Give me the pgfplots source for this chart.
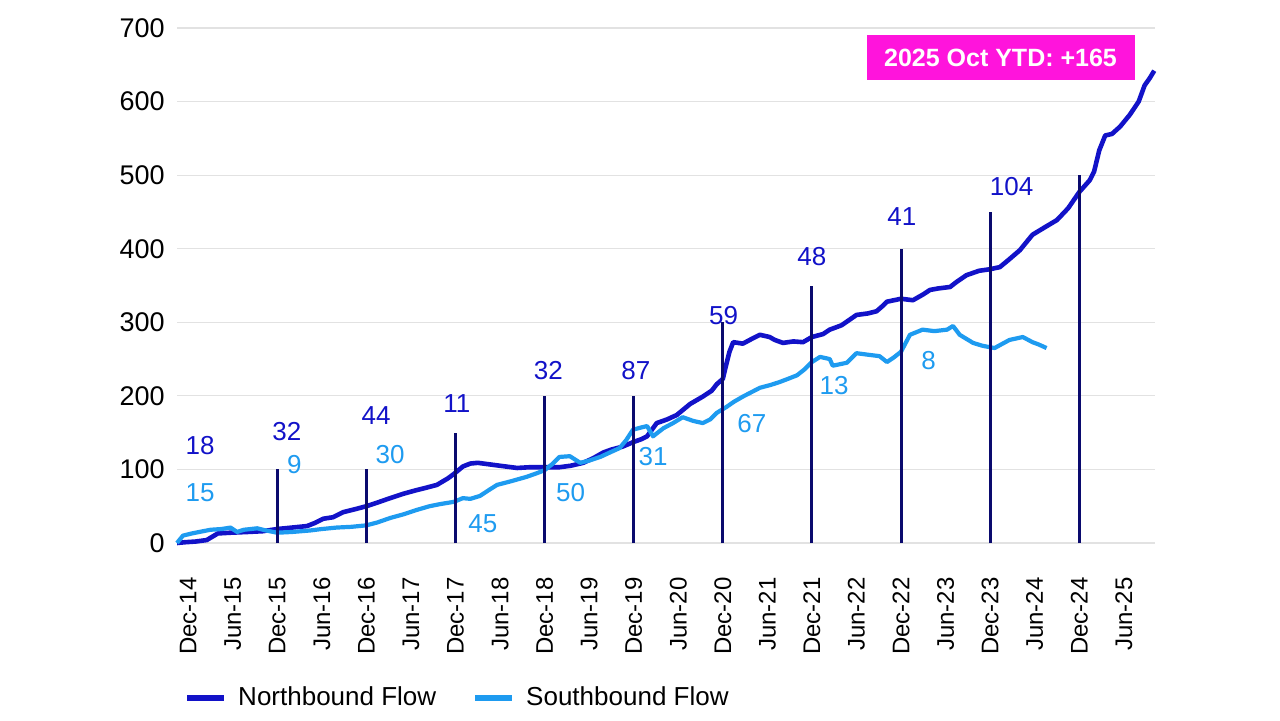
\documentclass[border=0pt]{standalone}
\usepackage{pgfplots}
\pgfplotsset{compat=1.18}
\usepackage{fontspec}
\setmainfont{Liberation Sans}

\definecolor{north}{RGB}{18,18,200}
\definecolor{south}{RGB}{30,155,240}
\definecolor{navy}{RGB}{10,10,110}
\definecolor{ytdpink}{RGB}{255,20,220}
\definecolor{gridgrey}{RGB}{226,226,226}

% months since Dec-14 (0 = Dec-14), cumulative flow
\pgfplotstableread{
m v
-1.5 0
-0.5 1
1 2
2.5 4
3.5 10
4 13
5.7 14
8 15
10 16
12 19
14 21
16 23
17 27
18.2 33
19.5 35
20.9 42
22.5 46
24 50
25.5 55
27.2 61
29 67
30.8 72
32 75
33.5 79
35 88
35.8 94
37 104
38 108
39 109
40.5 107
42 105
44.3 102
46 103
48 103
50 103
51.5 105
53.2 109
54.5 115
55.9 123
57 127
58.5 131
59.9 137
61 141
61.8 145
63.1 163
64.5 168
65.8 174
67.6 189
69.3 199
70.5 207
71.2 216
72 223
72.4 240
72.9 260
73.4 273
74.7 271
76 278
77 283
78.3 280
79 276
80.1 272
81.5 274
82.8 273
84 280
85.5 284
86.4 290
88 296
90 310
91.5 312
92.7 315
93.5 322
94.1 328
96 332
97.6 330
99 338
99.9 344
101 346
102.6 348
103.5 355
104.8 364
106.5 370
107.9 372
109.3 375
110.5 385
112 398
113.7 419
115.5 430
117 439
118.5 455
120 477
121.4 493
122 505
122.7 534
123.5 554
124.4 556
125.5 566
126.8 582
128 600
128.8 622
129.5 632
130.1 642
}\northdata

\pgfplotstableread{
m v
-1.5 0
-0.7 10
0.5 13
2 16
3 18
4.5 19
5.7 21
6.6 15
7.5 18
9.3 20
10.5 17
12 14
14 15
16.4 17
18 19
20 21
22 22
24 24
25.5 28
27.2 34
29 39
30.8 45
32.5 50
34 53
35.8 56
37 61
38 60
39.3 64
40.5 72
41.6 79
43.5 84
45.6 90
47 95
48 99
49 107
50 117
51.4 118
52.8 109
54 112
55.5 117
57 124
58.1 129
59 140
59.9 154
61 157
61.8 159
62.6 145
64 156
65.3 163
66.6 171
68 166
69.3 163
70.3 168
71.2 177
72.5 185
73.5 192
74.7 199
77 211
78.5 215
79.7 219
81 224
82 228
83 236
84 246
85.1 253
86.4 250
86.8 241
88.7 245
90 258
91.5 256
93.1 254
94.1 246
95 252
96 260
97.2 283
98.9 290
100.5 288
102.2 290
103 295
103.9 283
105.7 272
107 268
108.6 265
109.5 270
110.6 276
112.4 280
113.7 273
114.5 270
115.6 265
}\southdata

% year-end marker lines
\pgfplotstableread{
m v
12 100
24 100
36 150
48 200
60 200
72 300
84 350
96 400
108 450
120 500
}\markerdata

\begin{document}
\begin{tikzpicture}
\path[use as bounding box] (-88.5pt,-88.5pt) rectangle (551.5pt,271.5pt);
\begin{axis}[
    at={(0pt,0pt)}, anchor=south west,
    scale only axis,
    width=489pt, height=257.5pt,
    xmin=-1.5, xmax=130.2,
    ymin=0, ymax=700,
    clip=false,
    axis line style={draw=none},
    tick style={draw=none},
    ytick={0,100,...,700},
    ymajorgrids=true,
    grid style={gridgrey, line width=0.6pt},
    xtick={0,6,...,126},
    xticklabels={Dec-14,Jun-15,Dec-15,Jun-16,Dec-16,Jun-17,Dec-17,Jun-18,Dec-18,Jun-19,Dec-19,Jun-20,Dec-20,Jun-21,Dec-21,Jun-22,Dec-22,Jun-23,Dec-23,Jun-24,Dec-24,Jun-25},
    xticklabel style={rotate=90, anchor=east, inner sep=0pt, font=\fontsize{12}{14}\selectfont},
    xticklabel shift=17pt,
    yticklabel style={anchor=east, inner sep=0pt, xshift=-6pt, font=\fontsize{13.5}{16}\selectfont},
    /pgf/number format/assume math mode=true,
    legend columns=2,
    legend style={at={(0.007,-0.301)}, anchor=west, draw=none, fill=none,
        inner sep=0pt, nodes={inner sep=0pt}, font=\fontsize{13}{15}\selectfont,
        /tikz/every odd column/.append style={column sep=5.5pt},
        /tikz/every even column/.append style={column sep=18pt}},
    legend image code/.code={\draw[line width=3pt] (0pt,0pt) -- (18.5pt,0pt);},
]
\addplot[north, line width=2.3pt, line join=round] table[x=m, y=v] {\northdata};
\addlegendentry{Northbound Flow}
\addplot[south, line width=2.1pt, line join=round] table[x=m, y=v] {\southdata};
\addlegendentry{Southbound Flow}
\addplot[navy, line width=1.5pt, ycomb, forget plot] table[x=m, y=v] {\markerdata};

\begin{scope}[every node/.style={font=\fontsize{13}{15}\selectfont}]
\node[text=north] at (axis cs:1.6,132) {18};
\node[text=south] at (axis cs:1.6,69) {15};
\node[text=north] at (axis cs:13.3,151) {32};
\node[text=south] at (axis cs:14.3,107) {9};
\node[text=north] at (axis cs:25.3,173) {44};
\node[text=south] at (axis cs:27.2,120) {30};
\node[text=north] at (axis cs:36.2,190) {11};
\node[text=south] at (axis cs:39.7,26) {45};
\node[text=north] at (axis cs:48.5,235) {32};
\node[text=south] at (axis cs:51.5,69) {50};
\node[text=north] at (axis cs:60.3,235) {87};
\node[text=south] at (axis cs:62.6,117) {31};
\node[text=north] at (axis cs:72.1,309) {59};
\node[text=south] at (axis cs:75.9,163) {67};
\node[text=north] at (axis cs:84,390) {48};
\node[text=south] at (axis cs:87,214) {13};
\node[text=north] at (axis cs:96.1,444) {41};
\node[text=south] at (axis cs:99.7,248) {8};
\node[text=north] at (axis cs:110.9,484) {104};
\end{scope}
\node[fill=ytdpink, text=white, font=\bfseries\fontsize{12.5}{15}\selectfont,
      minimum width=134pt, minimum height=22.5pt, inner sep=0pt]
      at (axis cs:109.4,660) {2025 Oct YTD: +165};
\end{axis}
\end{tikzpicture}
\end{document}
